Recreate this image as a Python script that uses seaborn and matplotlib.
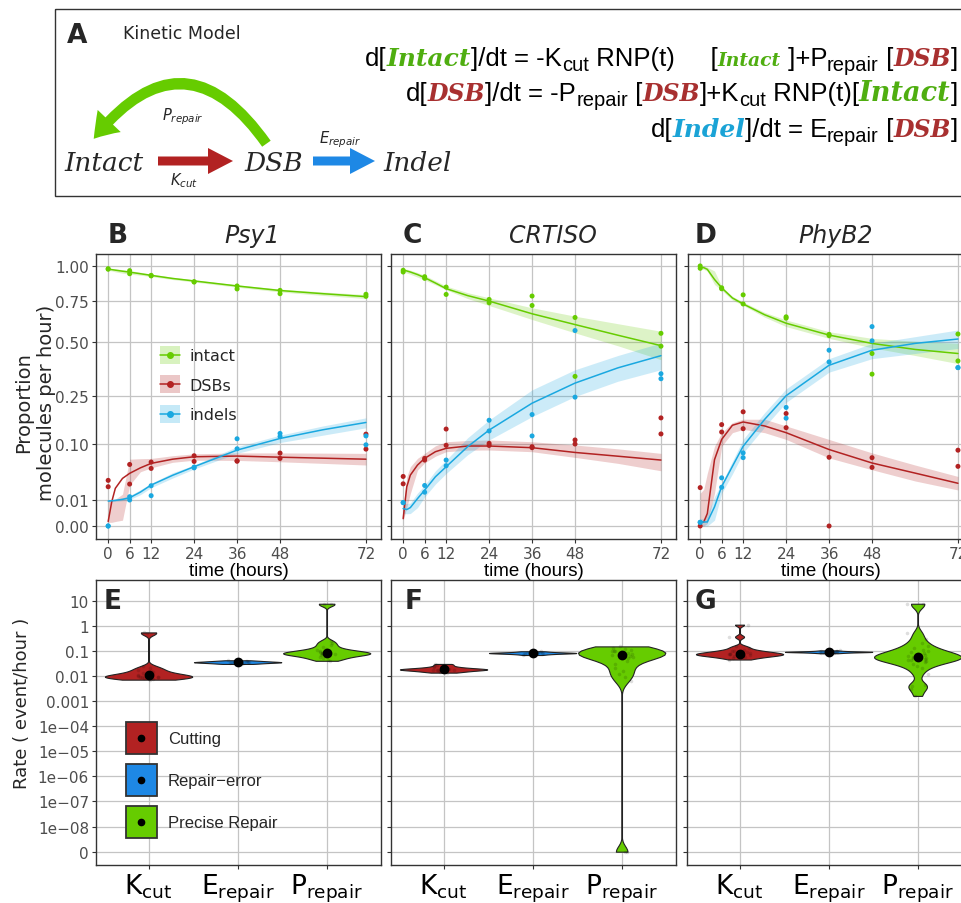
import numpy as np
import pandas as pd
import matplotlib
matplotlib.use("Agg")
import matplotlib.pyplot as plt
from matplotlib.patches import Rectangle, FancyArrow, FancyArrowPatch, Patch
from matplotlib.lines import Line2D
from matplotlib.legend_handler import HandlerLine2D
import seaborn as sns

# Figure size in pixels (dpi 100)
W, H = 961, 904

# Colours
GREEN = "#66cc00"
RED = "#b22222"
CYAN = "#1aa8e0"
BLUE = "#1e88e5"
EQ_GREEN = "#4fae10"
EQ_RED = "#a83030"
EQ_CYAN = "#1aa3d6"

# Sampling times of the measured points and of the fitted curves
TIMES = [0, 6, 12, 24, 36, 48, 72]
FIT_T = [0, 1, 2, 4, 6, 9, 12, 18, 24, 36, 48, 60, 72]
SPECIES = ["intact", "DSBs", "indels"]

# ---- Psy1 (panel B): two replicates per time point
psy1_intact = [[0.979, 0.964, 0.929, 0.883, 0.852, 0.821, 0.794],
               [0.975, 0.941, 0.925, 0.880, 0.831, 0.798, 0.780]]
psy1_dsb = [[0.0308, 0.056, 0.0604, 0.073, 0.063, 0.0786, 0.1248],
            [0.0228, 0.026, 0.049, 0.0617, 0.062, 0.0675, 0.0874]]
psy1_indel = [[0.0, 0.0127, 0.024, 0.0513, 0.1125, 0.1267, 0.120],
              [0.0, 0.0100, 0.0136, 0.050, 0.0882, 0.1186, 0.0975]]
# fitted curve, lower and upper band (at FIT_T)
psy1_intact_fit = [0.975, 0.972, 0.968, 0.960, 0.953, 0.941, 0.929, 0.906, 0.888, 0.852, 0.820, 0.798, 0.778]
psy1_intact_lo = [0.965, 0.962, 0.955, 0.945, 0.938, 0.930, 0.920, 0.898, 0.880, 0.843, 0.810, 0.786, 0.765]
psy1_intact_hi = [0.985, 0.980, 0.978, 0.972, 0.965, 0.952, 0.938, 0.915, 0.896, 0.860, 0.830, 0.810, 0.792]
psy1_dsb_fit = [0.0003, 0.0087, 0.021, 0.0335, 0.041, 0.050, 0.058, 0.066, 0.0709, 0.0723, 0.070, 0.068, 0.066]
psy1_dsb_lo = [0.0002, 0.0002, 0.0003, 0.0005, 0.0248, 0.0435, 0.050, 0.060, 0.064, 0.0636, 0.061, 0.058, 0.055]
psy1_dsb_hi = [0.0100, 0.0100, 0.0106, 0.0150, 0.066, 0.067, 0.0675, 0.073, 0.077, 0.079, 0.079, 0.0785, 0.078]
psy1_indel_fit = [0.0092, 0.0094, 0.0097, 0.0105, 0.0118, 0.017, 0.0248, 0.038, 0.052, 0.0852, 0.1133, 0.137, 0.1585]
psy1_indel_lo = [0.0087, 0.0088, 0.0090, 0.0095, 0.0103, 0.0145, 0.0217, 0.034, 0.048, 0.078, 0.103, 0.122, 0.1426]
psy1_indel_hi = [0.0100, 0.0102, 0.0106, 0.0118, 0.0136, 0.0195, 0.0268, 0.042, 0.0549, 0.093, 0.122, 0.148, 0.173]

# ---- CRTISO (panel C)
crtiso_intact = [[0.967, 0.919, 0.844, 0.759, 0.782, 0.643, 0.549],
                 [0.954, 0.907, 0.793, 0.737, 0.719, 0.331, 0.478]]
crtiso_dsb = [[0.0363, 0.0676, 0.139, 0.101, 0.093, 0.1094, 0.1728],
              [0.0263, 0.0643, 0.0962, 0.096, 0.0907, 0.0994, 0.1253]]
crtiso_indel = [[0.0081, 0.0243, 0.0643, 0.1654, 0.1837, 0.565, 0.343],
                [0.0081, 0.0169, 0.0537, 0.1336, 0.1199, 0.2455, 0.3207]]
crtiso_intact_fit = [0.969, 0.962, 0.954, 0.935, 0.912, 0.873, 0.833, 0.785, 0.748, 0.666, 0.600, 0.538, 0.481]
crtiso_intact_lo = [0.954, 0.946, 0.937, 0.916, 0.895, 0.860, 0.825, 0.765, 0.719, 0.6305, 0.5515, 0.480, 0.409]
crtiso_intact_hi = [0.9795, 0.975, 0.968, 0.950, 0.929, 0.890, 0.8515, 0.805, 0.770, 0.704, 0.651, 0.605, 0.561]
crtiso_dsb_fit = [0.0008, 0.0227, 0.0383, 0.0549, 0.0676, 0.0816, 0.0892, 0.0946, 0.0946, 0.0907, 0.080, 0.072, 0.0643]
crtiso_dsb_lo = [0.0005, 0.0050, 0.0156, 0.0462, 0.059, 0.072, 0.0816, 0.085, 0.0854, 0.0816, 0.0696, 0.058, 0.0451]
crtiso_dsb_hi = [0.0054, 0.0358, 0.0519, 0.0676, 0.078, 0.095, 0.105, 0.108, 0.1094, 0.105, 0.097, 0.088, 0.078]
crtiso_indel_fit = [0.0045, 0.0040, 0.0050, 0.0111, 0.019, 0.0358, 0.0519, 0.093, 0.136, 0.223, 0.302, 0.370, 0.429]
crtiso_indel_lo = [0.0023, 0.0022, 0.0023, 0.0050, 0.0125, 0.026, 0.0408, 0.075, 0.1094, 0.177, 0.248, 0.310, 0.361]
crtiso_indel_hi = [0.0074, 0.0075, 0.0078, 0.0160, 0.0247, 0.045, 0.0643, 0.115, 0.1664, 0.274, 0.361, 0.430, 0.4956]

# ---- PhyB2 (panel D)
phyb2_intact = [[1.0, 0.839, 0.790, 0.647, 0.543, 0.440, 0.545],
                [0.982, 0.832, 0.729, 0.639, 0.536, 0.341, 0.403]]
phyb2_dsb = [[0.0218, 0.152, 0.1928, 0.187, 0.0698, 0.069, 0.085],
             [0.0, 0.1306, 0.140, 0.143, 0.0, 0.0508, 0.0526]]
phyb2_indel = [[0.0002, 0.0343, 0.079, 0.208, 0.457, 0.588, 0.371],
               [0.0002, 0.0222, 0.0691, 0.1718, 0.398, 0.507, 0.371]]
phyb2_intact_fit = [0.987, 0.987, 0.974, 0.899, 0.839, 0.769, 0.729, 0.660, 0.608, 0.539, 0.493, 0.461, 0.440]
phyb2_intact_lo = [0.974, 0.974, 0.960, 0.8626, 0.822, 0.755, 0.720, 0.645, 0.588, 0.5206, 0.4695, 0.430, 0.390]
phyb2_intact_hi = [1.0, 1.0, 0.990, 0.9615, 0.850, 0.780, 0.742, 0.675, 0.628, 0.558, 0.5206, 0.505, 0.493]
phyb2_dsb_fit = [0.00024, 0.00024, 0.0023, 0.065, 0.1108, 0.150, 0.160, 0.148, 0.1288, 0.0865, 0.0587, 0.0414, 0.027]
phyb2_dsb_lo = [0.0, 0.0, 0.0001, 0.0158, 0.094, 0.1288, 0.138, 0.1288, 0.1108, 0.0685, 0.0468, 0.030, 0.0192]
phyb2_dsb_hi = [0.0158, 0.020, 0.0413, 0.094, 0.1288, 0.158, 0.1686, 0.1686, 0.148, 0.1108, 0.079, 0.055, 0.0363]
phyb2_indel_fit = [0.00024, 0.00024, 0.00024, 0.0054, 0.023, 0.0526, 0.094, 0.168, 0.251, 0.382, 0.457, 0.493, 0.517]
phyb2_indel_lo = [0.0, 0.0, 0.0, 0.0005, 0.0158, 0.040, 0.079, 0.145, 0.226, 0.350, 0.414, 0.440, 0.466]
phyb2_indel_hi = [0.0008, 0.0008, 0.0020, 0.0127, 0.027, 0.062, 0.111, 0.190, 0.278, 0.414, 0.493, 0.530, 0.568]

# ---- Rate estimates (event/hour) for the violins
PARAMS = ["K_cut", "E_repair", "P_repair"]
PARAM_LABELS = [r"$\mathregular{K_{cut}}$", r"$\mathregular{E_{repair}}$", r"$\mathregular{P_{repair}}$"]
LEGEND_LABELS = ["Cutting", "Repair\u2212error", "Precise Repair"]
VIOLIN_COLORS = [RED, BLUE, GREEN]

psy1_kcut = [0.0071, 0.0076, 0.0079, 0.0083, 0.0087, 0.0089, 0.0091, 0.0093, 0.0095, 0.010, 0.0105,
             0.011, 0.012, 0.0126, 0.014, 0.016, 0.018, 0.020, 0.024, 0.50, 0.54]
psy1_erepair = [0.030, 0.031, 0.032, 0.033, 0.034, 0.034, 0.035, 0.035, 0.036, 0.036, 0.037, 0.038,
                0.039, 0.040, 0.042]
psy1_prepair = [0.040, 0.045, 0.050, 0.055, 0.060, 0.065, 0.070, 0.072, 0.075, 0.078, 0.080, 0.080,
                0.082, 0.085, 0.090, 0.095, 0.10, 0.11, 0.12, 0.14, 0.17, 0.20, 0.25, 7.0, 7.5]
crtiso_kcut = [0.0135, 0.0145, 0.015, 0.016, 0.0165, 0.017, 0.0175, 0.018, 0.018, 0.0185, 0.019,
               0.019, 0.020, 0.021, 0.022, 0.024, 0.027, 0.030]
crtiso_erepair = [0.068, 0.072, 0.075, 0.077, 0.079, 0.080, 0.081, 0.082, 0.083, 0.084, 0.086, 0.088,
                  0.092, 0.096]
crtiso_prepair = [0.0, 0.0, 0.006, 0.009, 0.012, 0.016, 0.020, 0.030, 0.040, 0.050, 0.055, 0.060,
                  0.065, 0.070, 0.070, 0.075, 0.080, 0.085, 0.090, 0.095, 0.10, 0.10, 0.11, 0.12,
                  0.13, 0.15]
phyb2_kcut = [0.045, 0.050, 0.055, 0.060, 0.062, 0.065, 0.068, 0.070, 0.072, 0.074, 0.076, 0.078,
              0.080, 0.085, 0.090, 0.095, 0.10, 0.11, 0.13, 0.15, 0.36, 1.1]
phyb2_erepair = [0.080, 0.083, 0.085, 0.087, 0.088, 0.089, 0.090, 0.090, 0.091, 0.092, 0.093, 0.094,
                 0.095, 0.097, 0.100, 0.104]
phyb2_prepair = [0.0016, 0.003, 0.004, 0.0045, 0.012, 0.020, 0.025, 0.030, 0.035, 0.040, 0.042, 0.045,
                 0.048, 0.050, 0.052, 0.055, 0.058, 0.060, 0.065, 0.070, 0.075, 0.080, 0.090, 0.10,
                 0.11, 0.13, 0.16, 0.20, 0.30, 0.50, 7.0, 7.5]

TOP_YTICKS = [0, 0.01, 0.10, 0.25, 0.50, 0.75, 1.00]
TOP_YLABELS = ["0.00", "0.01", "0.10", "0.25", "0.50", "0.75", "1.00"]
LOG_TICKS = list(range(-9, 2))
LOG_LABELS = ["0", "1e\u221208", "1e\u221207", "1e\u221206", "1e\u221205", "1e\u221204",
              "0.001", "0.01", "0.1", "1", "10"]

sns.set_theme(style="whitegrid")
plt.rcParams["font.family"] = ["DejaVu Sans"]
plt.rcParams["mathtext.fontset"] = "dejavusans"

fig = plt.figure(figsize=(W / 100, H / 100), dpi=100)


def add_ax(x0, y0, x1, y1):
    # axes from pixel box (top-left origin)
    return fig.add_axes([x0 / W, 1 - y1 / H, (x1 - x0) / W, (y1 - y0) / H])


def ssqrt(v):
    return np.sign(v) * np.sqrt(np.abs(v))


def ssq(v):
    return np.sign(v) * v ** 2


def style_axes(ax):
    ax.set_facecolor("white")
    for s in ax.spines.values():
        s.set_color("#333333")
        s.set_linewidth(1.0)
    ax.grid(True, color="#c4c4c4", lw=0.9)
    ax.tick_params(left=True, bottom=True, length=3, width=0.8, color="#333333",
                   labelcolor="#4d4d4d", labelsize=11, pad=2)


class CentredMarker(HandlerLine2D):
    # put the legend marker/line in the middle of the key box
    def create_artists(self, legend, orig_handle, xdescent, ydescent, width, height, fontsize, trans):
        artists = super().create_artists(legend, orig_handle, xdescent, ydescent, width, height,
                                         fontsize, trans)
        for a in artists:
            a.set_ydata(np.asarray(a.get_ydata()) - ydescent / 2)
        return artists


# ---------------- Panel A: kinetic model ----------------
ax0 = add_ax(0, 0, W, H)
ax0.set_xlim(0, W)
ax0.set_ylim(H, 0)
ax0.axis("off")
ax0.add_patch(Rectangle((55, 10), 930, 187, fill=False, ec="#333333", lw=1.0))
ax0.text(77, 36, "A", fontsize=19, fontweight="bold", ha="center", va="center")
ax0.text(123, 34, "Kinetic Model", fontsize=12.5, ha="left", va="center")

# diagram
dia = dict(family="DejaVu Serif", style="italic", fontsize=19, va="baseline")
ax0.text(64, 171, "Intact", ha="left", **dia)
ax0.text(244, 171, "DSB", ha="left", **dia)
ax0.text(383, 171, "Indel", ha="left", **dia)
ax0.add_patch(FancyArrow(158, 162, 75, 0, width=9, head_width=26, head_length=25,
                         length_includes_head=True, color=RED, lw=0))
ax0.add_patch(FancyArrow(313, 162, 62, 0, width=9, head_width=26, head_length=25,
                         length_includes_head=True, color=BLUE, lw=0))
ax0.add_patch(FancyArrowPatch((268, 147), (92, 142), connectionstyle="arc3,rad=0.68",
                              arrowstyle="simple,head_length=1.7,head_width=2.3,tail_width=0.75",
                              mutation_scale=10, color=GREEN, lw=0))
ax0.text(183, 117, r"$\mathit{P}_{\mathit{repair}}$", fontsize=10.5, ha="center", va="center")
ax0.text(184, 181, r"$\mathit{K}_{\mathit{cut}}$", fontsize=10.5, ha="center", va="center")
ax0.text(340, 140, r"$\mathit{E}_{\mathit{repair}}$", fontsize=10.5, ha="center", va="center")

# equations, drawn piece by piece and right aligned
SANS = dict(family="Liberation Sans", fontsize=18.5, color="black")
SUB = dict(family="Liberation Sans", fontsize=14.5, color="black")


def serif(size, color):
    return dict(family="DejaVu Serif", style="italic", fontweight="bold", fontsize=size, color=color)


def rich_line(pieces, x_right, y_base):
    r = fig.canvas.get_renderer()
    texts = [ax0.text(0, y_base + dy, s, ha="left", va="baseline", **kw) for s, kw, dy in pieces]
    x = x_right
    for t in reversed(texts):
        x -= t.get_window_extent(r).width
        t.set_x(x)


rich_line([("d[", SANS, 0), ("Intact", serif(18, EQ_GREEN), 0), ("]/dt = -K", SANS, 0), ("cut", SUB, 5),
           (" RNP(t)     [", SANS, 0), ("Intact", serif(13.5, EQ_GREEN), 0), (" ]+P", SANS, 0),
           ("repair", SUB, 5), (" [", SANS, 0), ("DSB", serif(17, EQ_RED), 0), ("]", SANS, 0)], 958, 66)
rich_line([("d[", SANS, 0), ("DSB", serif(17, EQ_RED), 0), ("]/dt = -P", SANS, 0), ("repair", SUB, 5),
           (" [", SANS, 0), ("DSB", serif(17, EQ_RED), 0), ("]+K", SANS, 0), ("cut", SUB, 5),
           (" RNP(t)[", SANS, 0), ("Intact", serif(19.5, EQ_GREEN), 0), ("]", SANS, 0)], 958, 101)
rich_line([("d[", SANS, 0), ("Indel", serif(18, EQ_CYAN), 0), ("]/dt = E", SANS, 0), ("repair", SUB, 5),
           (" [", SANS, 0), ("DSB", serif(17, EQ_RED), 0), ("]", SANS, 0)], 958, 137)

# ---------------- Panels B-D: time courses ----------------
top_panels = [
    ("B", "Psy1", (96, 381), 118, 252,
     [psy1_intact, psy1_dsb, psy1_indel],
     [(psy1_intact_lo, psy1_intact_fit, psy1_intact_hi),
      (psy1_dsb_lo, psy1_dsb_fit, psy1_dsb_hi),
      (psy1_indel_lo, psy1_indel_fit, psy1_indel_hi)]),
    ("C", "CRTISO", (391, 676), 412, 553,
     [crtiso_intact, crtiso_dsb, crtiso_indel],
     [(crtiso_intact_lo, crtiso_intact_fit, crtiso_intact_hi),
      (crtiso_dsb_lo, crtiso_dsb_fit, crtiso_dsb_hi),
      (crtiso_indel_lo, crtiso_indel_fit, crtiso_indel_hi)]),
    ("D", "PhyB2", (688, 973), 706, 836,
     [phyb2_intact, phyb2_dsb, phyb2_indel],
     [(phyb2_intact_lo, phyb2_intact_fit, phyb2_intact_hi),
      (phyb2_dsb_lo, phyb2_dsb_fit, phyb2_dsb_hi),
      (phyb2_indel_lo, phyb2_indel_fit, phyb2_indel_hi)]),
]
SP_COLORS = [GREEN, RED, CYAN]

for i, (letter, gene, (x0, x1), lx, tx, points, fits) in enumerate(top_panels):
    ax = add_ax(x0, 255, x1, 540)
    style_axes(ax)
    ax.set_yscale("function", functions=(ssqrt, ssq))
    for sp, color, reps, (lo, fit, hi) in zip(SPECIES, SP_COLORS, points, fits):
        ax.fill_between(FIT_T, lo, hi, color=color, alpha=0.22, lw=0, zorder=2)
        sns.lineplot(x=FIT_T, y=fit, color=color, lw=1.1, errorbar=None, ax=ax, zorder=3)
        df = pd.DataFrame({"t": TIMES * 2, "v": reps[0] + reps[1]})
        sns.scatterplot(data=df, x="t", y="v", color=color, s=13, edgecolor="none", ax=ax, zorder=4)
    ax.set_xlim(-3.4, 76.2)
    ax.set_ylim(-0.0025, 1.094)
    ax.set_xticks(TIMES)
    ax.set_yticks(TOP_YTICKS)
    ax.set_yticklabels(TOP_YLABELS if i == 0 else [])
    ax.set_xlabel("time (hours)", family="Liberation Sans", fontsize=13.5, color="black", labelpad=1)
    ax.set_ylabel("")
    fig.text(lx / W, 1 - 236 / H, letter, fontsize=19, fontweight="bold", ha="center", va="center")
    fig.text(tx / W, 1 - 236 / H, gene, fontsize=17, style="italic", ha="center", va="center")
    if i == 0:
        handles = [(Patch(facecolor=c, alpha=0.25, edgecolor="none"),
                    Line2D([0], [0], color=c, marker="o", markersize=4, lw=1.1)) for c in SP_COLORS]
        ax.legend(handles, SPECIES, loc="upper left", bbox_to_anchor=(160 / W, 1 - 347 / H),
                  bbox_transform=fig.transFigure, frameon=False, fontsize=11.5, handlelength=1.25,
                  handleheight=1.35, labelspacing=0.72, handletextpad=0.6, borderpad=0, borderaxespad=0,
                  handler_map={Line2D: CentredMarker()})

fig.text(35 / W, 1 - 403 / H, "Proportion\nmolecules per hour)", rotation=90, fontsize=14,
         ha="center", va="center", multialignment="center", linespacing=1.25)


# ---------------- Panels E-G: rate violins ----------------
def nrd0(kde):
    # R-style rule-of-thumb bandwidth (robust to outliers)
    d = kde.dataset.ravel()
    sd = d.std(ddof=1)
    iqr = np.subtract(*np.percentile(d, [75, 25]))
    h = 0.9 * min(sd, iqr / 1.34) * len(d) ** -0.2
    return h / sd


bottom_panels = [
    ("E", (96, 381), 113, [psy1_kcut, psy1_erepair, psy1_prepair]),
    ("F", (391, 676), 414, [crtiso_kcut, crtiso_erepair, crtiso_prepair]),
    ("G", (687, 972), 705, [phyb2_kcut, phyb2_erepair, phyb2_prepair]),
]

np.random.seed(3)  # jitter of the strip points only
for i, (letter, (x0, x1), lx, rates) in enumerate(bottom_panels):
    ax = add_ax(x0, 581, x1, 866)
    style_axes(ax)
    df = pd.DataFrame({
        "param": sum([[p] * len(r) for p, r in zip(PARAMS, rates)], []),
        "rate": sum([list(r) for r in rates], []),
    })
    df["lrate"] = np.log10(df["rate"] + 1e-9)
    sns.violinplot(data=df, x="param", y="lrate", hue="param", order=PARAMS, hue_order=PARAMS,
                   palette=VIOLIN_COLORS, cut=0, inner=None, density_norm="width", width=0.98,
                   linewidth=0.8, linecolor="#222222", bw_method=nrd0, saturation=1,
                   legend=False, ax=ax)
    sns.stripplot(data=df, x="param", y="lrate", order=PARAMS, color="black", alpha=0.13,
                  size=2.6, jitter=0.13, ax=ax)
    sns.pointplot(data=df, x="param", y="lrate", order=PARAMS, estimator="median", errorbar=None,
                  color="black", linestyle="none", markersize=5, ax=ax)
    ax.set_xlim(-0.59, 2.61)
    ax.set_ylim(-9.53, 1.82)
    ax.grid(True, color="#c4c4c4", lw=0.9)
    ax.set_axisbelow(True)
    ax.set_yticks(LOG_TICKS)
    ax.set_yticklabels(LOG_LABELS if i == 0 else [])
    ax.set_xticks(range(3))
    ax.set_xticklabels(PARAM_LABELS, fontsize=19, color="black")
    ax.tick_params(axis="x", pad=2)
    ax.set_xlabel("")
    ax.set_ylabel("")
    fig.text(lx / W, 1 - 602 / H, letter, fontsize=19, fontweight="bold", ha="center", va="center")
    if i == 0:
        handles = [(Patch(facecolor=c, edgecolor="#333333", lw=1.3),
                    Line2D([0], [0], ls="none", marker="o", color="black", markersize=4.5))
                   for c in VIOLIN_COLORS]
        leg = ax.legend(handles, LEGEND_LABELS, loc="upper left", bbox_to_anchor=(126 / W, 1 - 723 / H),
                        bbox_transform=fig.transFigure, frameon=False, handlelength=1.85,
                        handleheight=2.57, labelspacing=0.6, handletextpad=0.65, borderpad=0,
                        borderaxespad=0, prop={"family": "Liberation Sans", "size": 12},
                        handler_map={Line2D: CentredMarker()})

fig.text(22 / W, 1 - 703 / H, "Rate ( event/hour )", rotation=90, fontsize=13, ha="center", va="center")

fig.savefig("out.png", dpi=100)
